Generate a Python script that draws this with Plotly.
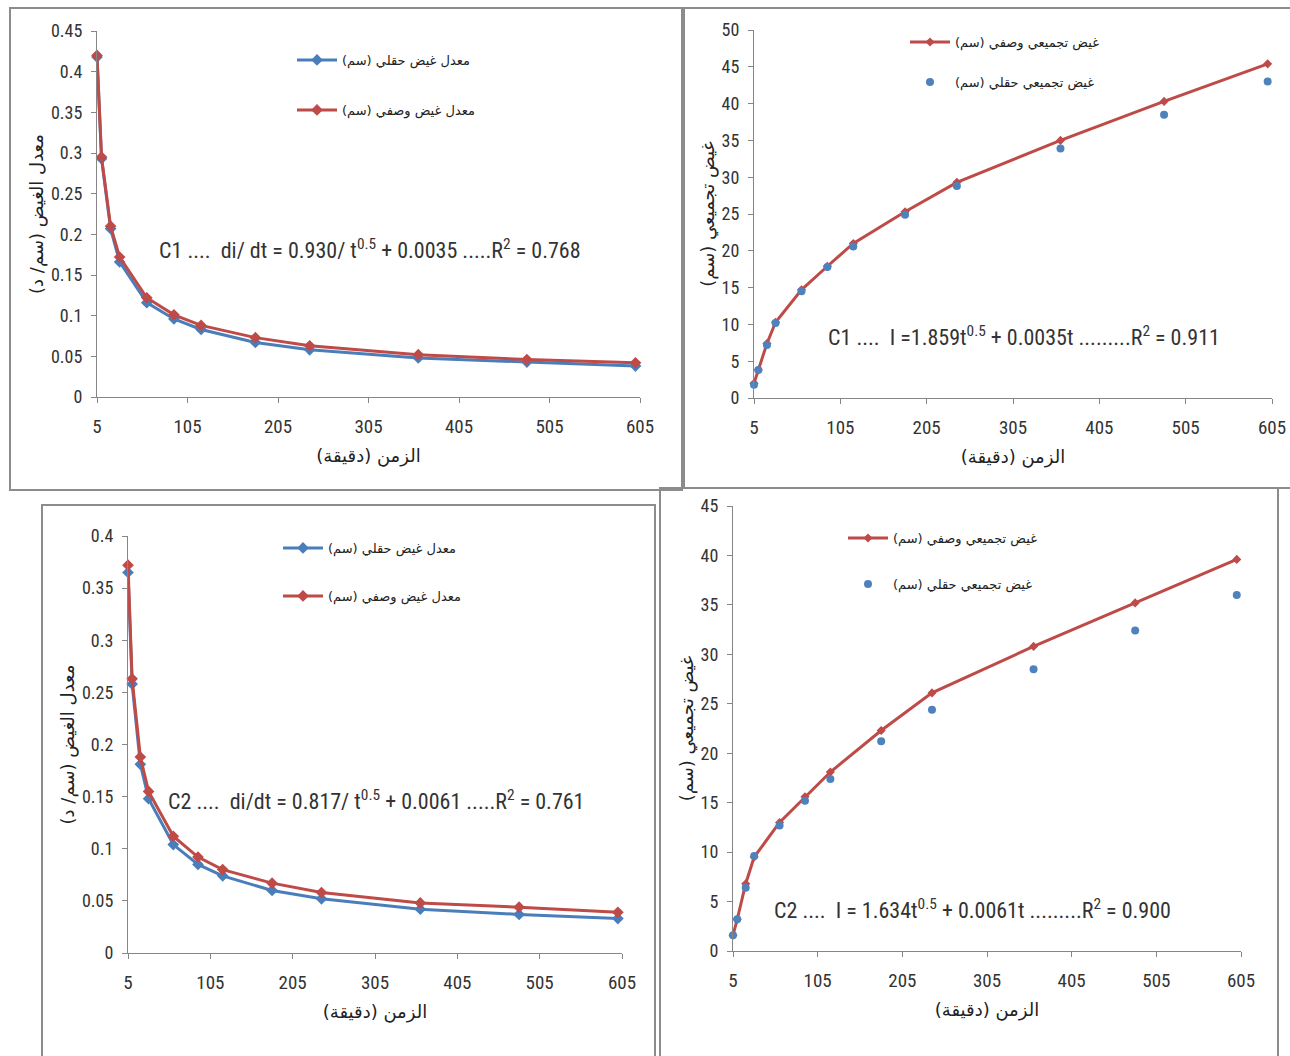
import plotly.graph_objects as go

# ---------------- data ----------------
time_min = [5, 10, 20, 30, 60, 90, 120, 180, 240, 360, 480, 600]

rate_c1_field = [0.418, 0.293, 0.207, 0.166, 0.116, 0.096, 0.083, 0.067, 0.058, 0.048, 0.043, 0.038]
rate_c1_model = [0.420, 0.295, 0.210, 0.172, 0.122, 0.101, 0.088, 0.073, 0.063, 0.052, 0.046, 0.042]

cum_c1_field = [1.8, 3.8, 7.2, 10.2, 14.5, 17.8, 20.6, 24.9, 28.8, 33.9, 38.5, 43.0]
cum_c1_model = [2.0, 3.8, 7.4, 10.3, 14.7, 17.9, 21.0, 25.3, 29.3, 35.0, 40.3, 45.4]

rate_c2_field = [0.365, 0.258, 0.181, 0.148, 0.104, 0.085, 0.074, 0.060, 0.052, 0.042, 0.037, 0.033]
rate_c2_model = [0.372, 0.263, 0.188, 0.155, 0.112, 0.092, 0.080, 0.067, 0.058, 0.048, 0.044, 0.039]

cum_c2_field = [1.6, 3.2, 6.4, 9.6, 12.7, 15.2, 17.4, 21.2, 24.4, 28.5, 32.4, 36.0]
cum_c2_model = [1.6, 3.2, 6.8, 9.5, 13.0, 15.6, 18.1, 22.3, 26.1, 30.8, 35.2, 39.6]

x_ticks = [5, 105, 205, 305, 405, 505, 605]
x_ticktext = ["5", "105", "205", "305", "405", "505", "605"]
rate_c1_ticks = [0, 0.05, 0.1, 0.15, 0.2, 0.25, 0.3, 0.35, 0.4, 0.45]
rate_c1_ticktext = ["0", "0.05", "0.1", "0.15", "0.2", "0.25", "0.3", "0.35", "0.4", "0.45"]
rate_c2_ticks = [0, 0.05, 0.1, 0.15, 0.2, 0.25, 0.3, 0.35, 0.4]
rate_c2_ticktext = ["0", "0.05", "0.1", "0.15", "0.2", "0.25", "0.3", "0.35", "0.4"]
cum_c1_ticks = [0, 5, 10, 15, 20, 25, 30, 35, 40, 45, 50]
cum_c2_ticks = [0, 5, 10, 15, 20, 25, 30, 35, 40, 45]

name_rate_field = "معدل غيض حقلي (سم)"
name_rate_model = "معدل غيض وصفي (سم)"
name_cum_model = "غيض تجميعي وصفي (سم)"
name_cum_field = "غيض تجميعي حقلي (سم)"
x_title = "الزمن (دقيقة)"
y_rate_title = "معدل الغيض (سم/ د)"
y_cum_title = "غيض تجميعي (سم)"

eq_c1_rate = "C1 ....  di/ dt = 0.930/ t<sup>0.5</sup> + 0.0035 .....R<sup>2</sup> = 0.768"
eq_c1_cum = "C1 ....  I =1.859t<sup>0.5</sup> + 0.0035t .........R<sup>2</sup> = 0.911"
eq_c2_rate = "C2 ....  di/dt = 0.817/ t<sup>0.5</sup> + 0.0061 .....R<sup>2</sup> = 0.761"
eq_c2_cum = "C2 ....  I = 1.634t<sup>0.5</sup> + 0.0061t .........R<sup>2</sup> = 0.900"

# ---------------- styling ----------------
W, H = 1290, 1056
BLUE = "#4A7EBB"
RED = "#BE4B48"
DOT = "#4F81BD"
AXC = "#868686"
NUM_FONT = "Liberation Sans Narrow, Roboto Condensed, Liberation Sans, Arial"
AR_FONT = "DejaVu Sans, Noto Sans, sans-serif"


def px(x):
    return x / W


def py(y):
    return 1 - y / H


fig = go.Figure()

# Top-left: C1 rate
fig.add_trace(go.Scatter(x=time_min, y=rate_c1_field, mode="lines+markers", name=name_rate_field,
                         line=dict(color=BLUE, width=3), marker=dict(symbol="diamond", size=9, color=BLUE),
                         xaxis="x", yaxis="y", legend="legend", cliponaxis=False))
fig.add_trace(go.Scatter(x=time_min, y=rate_c1_model, mode="lines+markers", name=name_rate_model,
                         line=dict(color=RED, width=3), marker=dict(symbol="diamond", size=9, color=RED),
                         xaxis="x", yaxis="y", legend="legend2", cliponaxis=False))
# Top-right: C1 cumulative
fig.add_trace(go.Scatter(x=time_min, y=cum_c1_model, mode="lines+markers", name=name_cum_model,
                         line=dict(color=RED, width=3), marker=dict(symbol="diamond", size=7, color=RED),
                         xaxis="x2", yaxis="y2", legend="legend3", cliponaxis=False))
fig.add_trace(go.Scatter(x=time_min, y=cum_c1_field, mode="markers", name=name_cum_field,
                         marker=dict(symbol="circle", size=8, color=DOT),
                         xaxis="x2", yaxis="y2", legend="legend4", cliponaxis=False))
# Bottom-left: C2 rate
fig.add_trace(go.Scatter(x=time_min, y=rate_c2_field, mode="lines+markers", name=name_rate_field,
                         line=dict(color=BLUE, width=3), marker=dict(symbol="diamond", size=9, color=BLUE),
                         xaxis="x3", yaxis="y3", legend="legend5", cliponaxis=False))
fig.add_trace(go.Scatter(x=time_min, y=rate_c2_model, mode="lines+markers", name=name_rate_model,
                         line=dict(color=RED, width=3), marker=dict(symbol="diamond", size=9, color=RED),
                         xaxis="x3", yaxis="y3", legend="legend6", cliponaxis=False))
# Bottom-right: C2 cumulative
fig.add_trace(go.Scatter(x=time_min, y=cum_c2_model, mode="lines+markers", name=name_cum_model,
                         line=dict(color=RED, width=3), marker=dict(symbol="diamond", size=7, color=RED),
                         xaxis="x4", yaxis="y4", legend="legend7", cliponaxis=False))
fig.add_trace(go.Scatter(x=time_min, y=cum_c2_field, mode="markers", name=name_cum_field,
                         marker=dict(symbol="circle", size=8, color=DOT),
                         xaxis="x4", yaxis="y4", legend="legend8", cliponaxis=False))


def xax(domain, anchor, size):
    return dict(domain=domain, anchor=anchor, range=[5, 605], tickvals=x_ticks, ticktext=x_ticktext,
                showline=True, linecolor=AXC, linewidth=1, ticks="outside", ticklen=5, tickcolor=AXC,
                showgrid=False, zeroline=False, automargin=False, ticklabelstandoff=7,
                tickfont=dict(family=NUM_FONT, size=size, color="#333333"),
                title=dict(text=x_title, font=dict(family=AR_FONT, size=18, color="#222222"), standoff=12))


def yax(domain, anchor, rng, tv, tt, title, size):
    return dict(domain=domain, anchor=anchor, range=rng, tickvals=tv, ticktext=tt,
                showline=True, linecolor=AXC, linewidth=1, ticks="outside", ticklen=5, tickcolor=AXC,
                showgrid=False, zeroline=False, automargin=False, ticklabelstandoff=5,
                tickfont=dict(family=NUM_FONT, size=size, color="#333333"),
                title=dict(text=title, font=dict(family=AR_FONT, size=18, color="#222222"), standoff=2))


def leg(x, y):
    return dict(x=px(x), y=py(y), xanchor="left", yanchor="middle", bgcolor="rgba(0,0,0,0)",
                font=dict(family=AR_FONT, size=13, color="#222222"), itemwidth=40)


shapes = []
for (x0, y0, x1, y1) in [(10, 8, 682, 490), (684, 8, 1295, 488), (42, 505, 655, 1060), (660, 488, 1278, 1060)]:
    shapes.append(dict(type="rect", xref="paper", yref="paper", x0=px(x0), x1=px(x1), y0=py(y1), y1=py(y0),
                       line=dict(color="#8C8C8C", width=2), fillcolor="rgba(0,0,0,0)", layer="below"))


def eq(text, x, y):
    return dict(text=text, x=px(x), y=py(y), xref="paper", yref="paper", showarrow=False,
                xanchor="center", yanchor="middle",
                font=dict(family=NUM_FONT, size=22, color="#333333"))


annotations = [
    eq(eq_c1_rate, 370, 249),
    eq(eq_c1_cum, 1024, 336),
    eq(eq_c2_rate, 376, 800),
    eq(eq_c2_cum, 972, 909),
]

fig.update_layout(
    width=W, height=H, margin=dict(l=0, r=0, t=0, b=0), template="none",
    paper_bgcolor="white", plot_bgcolor="white", showlegend=True,
    xaxis=xax([px(97), px(640)], "y", 19),
    yaxis=yax([py(397), py(31)], "x", [0, 0.45], rate_c1_ticks, rate_c1_ticktext, y_rate_title, 18),
    xaxis2=xax([px(754), px(1272)], "y2", 19),
    yaxis2=yax([py(398), py(30)], "x2", [0, 50], cum_c1_ticks, [str(v) for v in cum_c1_ticks], y_cum_title, 18),
    xaxis3=xax([px(128), px(622)], "y3", 19),
    yaxis3=yax([py(953), py(536)], "x3", [0, 0.4], rate_c2_ticks, rate_c2_ticktext, y_rate_title, 18),
    xaxis4=xax([px(733), px(1241)], "y4", 19),
    yaxis4=yax([py(951), py(506)], "x4", [0, 45], cum_c2_ticks, [str(v) for v in cum_c2_ticks], y_cum_title, 18),
    legend=leg(292, 60), legend2=leg(292, 110),
    legend3=leg(905, 42), legend4=leg(905, 82),
    legend5=leg(278, 548), legend6=leg(278, 596),
    legend7=leg(843, 538), legend8=leg(843, 584),
    shapes=shapes, annotations=annotations,
)

fig.write_html("out.html")
